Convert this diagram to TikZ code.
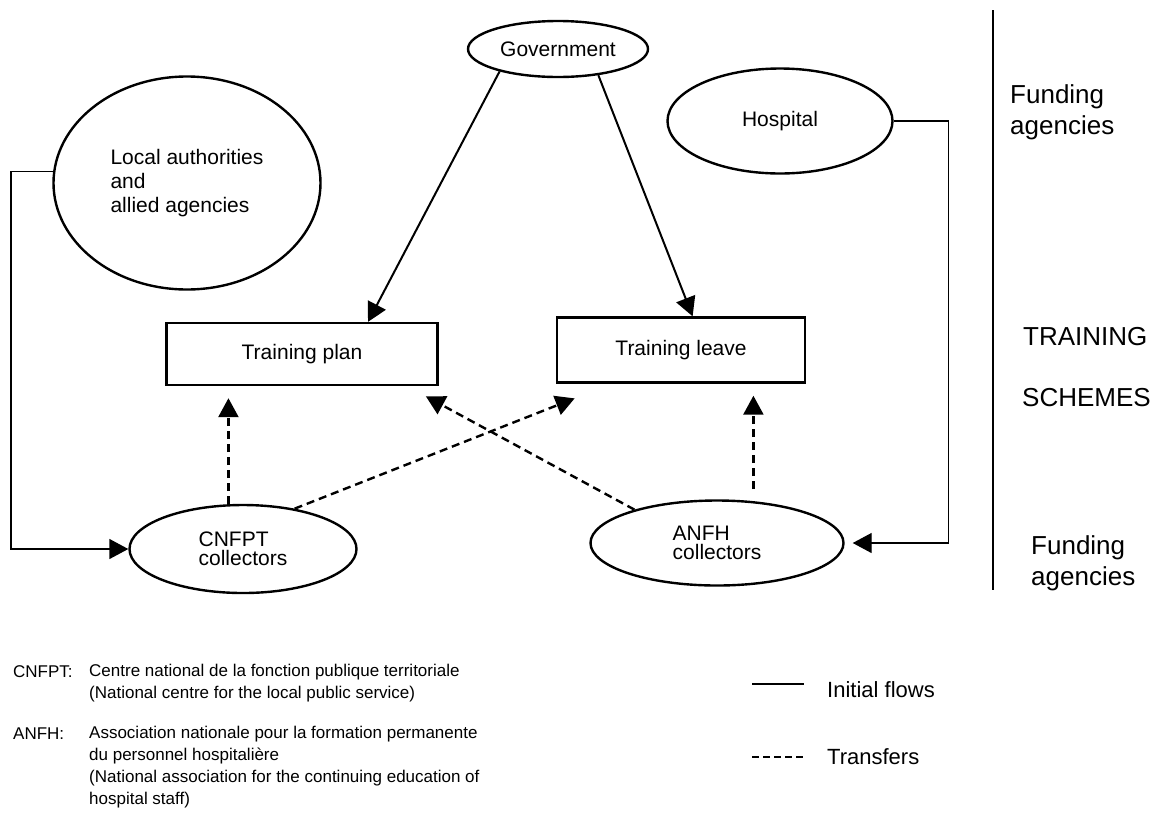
\documentclass[tikz,border=0pt]{standalone}
\usepackage{fontspec}
\setmainfont{Liberation Sans}
\usetikzlibrary{arrows.meta}
\usetikzlibrary{shapes.geometric}
\tikzset{
    fund_node/.style = {ellipse, draw=black, line width=2.4pt, inner sep=0pt, align=left, font=\fontsize{21}{24}\selectfont},
    scheme_node/.style = {rectangle, draw=black, line width=2.4pt, inner sep=0pt, font=\fontsize{21}{24}\selectfont},
    side_label/.style = {anchor=west, align=left, inner sep=0pt, font=\fontsize{26}{31}\selectfont},
    note_text/.style = {anchor=west, align=left, inner sep=0pt, font=\fontsize{17}{22}\selectfont},
    key_text/.style = {anchor=west, inner sep=0pt, font=\fontsize{22}{26}\selectfont},
    flow_line/.style = {->, line width=2pt},
    feed_line/.style = {->, line width=1.4pt},
    transfer_line/.style = {->, line width=2.4pt, dash pattern=on 8pt off 5pt}
}

\begin{document}
\begin{tikzpicture}[x=1pt, y=-1pt, >={Triangle[length=19pt,width=20pt]}]
    \useasboundingbox (0,0) rectangle (1158,812);

    % funding agencies
    \node [fund_node, minimum width=180pt, minimum height=56pt] (gov) at (558,49) {Government};
    \node [fund_node, minimum width=267pt, minimum height=213pt] (local) at (187,183) {Local authorities\\and\\allied agencies};
    \node [fund_node, minimum width=225pt, minimum height=105pt] (hosp) at (780,121) {Hospital};
    \node [fund_node, minimum width=227pt, minimum height=88pt, font=\fontsize{21}{19}\selectfont] (cnfpt) at (243,549) {CNFPT\\collectors};
    \node [fund_node, minimum width=253pt, minimum height=85pt, font=\fontsize{21}{19}\selectfont] (anfh) at (717,543) {ANFH\\collectors};

    % training schemes
    \node [scheme_node, minimum width=271pt, minimum height=62pt] (plan) at (302,354) {Training plan};
    \node [scheme_node, minimum width=248pt, minimum height=65pt] (leave) at (681,350) {Training leave};

    % initial flows
    \draw [flow_line] (gov.201) -- (plan.26);
    \draw [flow_line] (gov.327) -- (leave.71);
    \draw [feed_line] (local.175) -- ++(-42,0) |- (cnfpt.west);
    \draw [feed_line, shorten >=8pt] (hosp.east) -- ++(55,0) |- (anfh.east);

    % transfers
    \draw [transfer_line, shorten >=12pt] (cnfpt.108) -- (cnfpt.108 |- plan.south);
    \draw [transfer_line, shorten <=12pt, shorten >=12pt] (anfh.49) -- (anfh.49 |- leave.south);
    \draw [transfer_line, shorten >=40pt] (cnfpt.38) -- (leave.206);
    \draw [transfer_line, shorten >=21pt] (anfh.158) -- (plan.343);

    % levels
    \draw [line width=2.4pt] (993,10) -- (993,590);
    \node [side_label] (fund_top) at (1010,112) {Funding\\agencies};
    \node [side_label] (training) at (1023,337) {TRAINING};
    \node [side_label] (schemes) at (1022,398) {SCHEMES};
    \node [side_label] (fund_bot) at (1031,563) {Funding\\agencies};

    % key
    \node [note_text] (cnfpt_key) at (13,672) {CNFPT:};
    \node [note_text] (cnfpt_def) at (89,683) {Centre national de la fonction publique territoriale\\(National centre for the local public service)};
    \node [note_text] (anfh_key) at (13,734) {ANFH:};
    \node [note_text] (anfh_def) at (89,767) {Association nationale pour la formation permanente\\du personnel hospitalière\\(National association for the continuing education of\\hospital staff)};
    \node [key_text] (flows_key) at (827,690) {Initial flows};
    \draw [line width=1.2pt] (flows_key.west) ++(-75,-6) -- ++(52,0);
    \node [key_text] (transfers_key) at (827,757) {Transfers};
    \draw [line width=1.6pt, dash pattern=on 7pt off 4pt] (transfers_key.west) ++(-75,0) -- ++(52,0);
\end{tikzpicture}
\end{document}
